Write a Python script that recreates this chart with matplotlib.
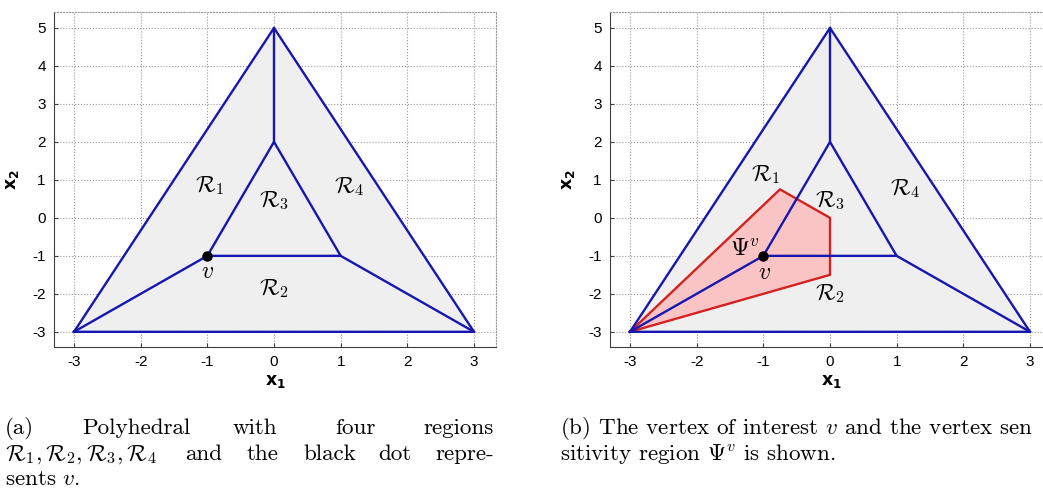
import matplotlib
matplotlib.use('Agg')
import matplotlib.pyplot as plt

matplotlib.rcParams['font.family'] = 'Liberation Sans'
matplotlib.rcParams['mathtext.fontset'] = 'cm'
matplotlib.rcParams['axes.unicode_minus'] = False

# polyhedron vertices
outer_x = [-3, 0, 3, -3]
outer_y = [-3, 5, -3, -3]
inner_x = [-1, 0, 1, -1]
inner_y = [-1, 2, -1, -1]
# segments joining inner and outer triangle
spokes = [([0, 0], [5, 2]), ([-3, -1], [-3, -1]), ([3, 1], [-3, -1])]
vertex_v = (-1, -1)
# vertex sensitivity region Psi^v
psi_x = [-3, -0.75, 0, 0, -3]
psi_y = [-3, 0.75, 0, -1.5, -3]

ticks_x = [-3, -2, -1, 0, 1, 2, 3]
ticks_y = [-3, -2, -1, 0, 1, 2, 3, 4, 5]

blue = '#1616b0'
fig = plt.figure(figsize=(10.43, 4.93), dpi=100)


def draw_panel(ax):
    ax.fill(outer_x, outer_y, color='#efefef', zorder=1)
    ax.set_xlim(-3.3, 3.33)
    ax.set_ylim(-3.4, 5.42)
    ax.set_xticks(ticks_x)
    ax.set_yticks(ticks_y)
    ax.grid(True, linestyle=':', color='#9a9a9a', linewidth=0.8)
    ax.set_axisbelow(True)
    for s in ['top', 'right']:
        ax.spines[s].set_linestyle(':')
        ax.spines[s].set_color('#9a9a9a')
        ax.spines[s].set_linewidth(0.8)
    for s in ['left', 'bottom']:
        ax.spines[s].set_color('#404040')
    ax.tick_params(direction='in', length=3, color='#404040', labelsize=11, pad=6)
    ax.set_xlabel(r'$\mathbf{x_1}$', math_fontfamily='dejavusans', fontsize=12.5, labelpad=3)
    ax.set_ylabel(r'$\mathbf{x_2}$', math_fontfamily='dejavusans', fontsize=12.5, labelpad=8)


def draw_lines(ax):
    ax.plot(outer_x, outer_y, color=blue, lw=1.7, zorder=4)
    ax.plot(inner_x, inner_y, color=blue, lw=1.7, zorder=4)
    for sx, sy in spokes:
        ax.plot(sx, sy, color=blue, lw=1.7, zorder=4)
    ax.plot(*vertex_v, 'o', color='black', ms=6.5, zorder=6)


# (a)
ax1 = fig.add_axes([54 / 1043, 1 - 347 / 493, 442 / 1043, 335 / 493])
draw_panel(ax1)
draw_lines(ax1)
ax1.text(-0.97, 0.86, r'$\mathcal{R}_1$', fontsize=16.5, ha='center', va='center', zorder=7)
ax1.text(0.0, 0.45, r'$\mathcal{R}_3$', fontsize=16.5, ha='center', va='center', zorder=7)
ax1.text(1.12, 0.82, r'$\mathcal{R}_4$', fontsize=16.5, ha='center', va='center', zorder=7)
ax1.text(0.0, -1.85, r'$\mathcal{R}_2$', fontsize=16.5, ha='center', va='center', zorder=7)
ax1.text(-1.0, -1.42, r'$v$', fontsize=17, ha='center', va='center', zorder=7)

# (b)
ax2 = fig.add_axes([610 / 1043, 1 - 347 / 493, 442 / 1043, 335 / 493])
draw_panel(ax2)
ax2.fill(psi_x, psi_y, color='#fbc4c4', zorder=2)
ax2.plot(psi_x, psi_y, color='#d42222', lw=1.7, zorder=3)
draw_lines(ax2)
ax2.text(-0.97, 1.15, r'$\mathcal{R}_1$', fontsize=16.5, ha='center', va='center', zorder=7)
ax2.text(0.0, 0.45, r'$\mathcal{R}_3$', fontsize=16.5, ha='center', va='center', zorder=7)
ax2.text(1.12, 0.78, r'$\mathcal{R}_4$', fontsize=16.5, ha='center', va='center', zorder=7)
ax2.text(0.0, -1.98, r'$\mathcal{R}_2$', fontsize=16.5, ha='center', va='center', zorder=7)
ax2.text(-1.27, -0.85, r'$\Psi^v$', fontsize=17.5, ha='center', va='center', zorder=7)
ax2.text(-0.98, -1.46, r'$v$', fontsize=17, ha='center', va='center', zorder=7)

# captions (justified words placed by hand)
cap = dict(family='cmr10', fontsize=16.6, va='baseline', ha='left')
line1 = [('(a)', 5), ('Polyhedral', 82), ('with', 233), ('four', 335), ('regions', 423)]
line2 = [(r'$\mathcal{R}_1,\mathcal{R}_2,\mathcal{R}_3,\mathcal{R}_4$', 5), ('and', 185),
         ('the', 247), ('black', 303), ('dot', 378), ('repre-', 435)]
for word, px in line1:
    fig.text(px / 1043, 1 - 434 / 493, word, **cap)
for word, px in line2:
    fig.text(px / 1043, 1 - 460 / 493, word, **cap)
fig.text(5 / 1043, 1 - 485 / 493, r'sents $v$.', **cap)
fig.text(560 / 1043, 1 - 434 / 493, r'(b) The vertex of interest $v$ and the vertex sen', **cap)
fig.text(560 / 1043, 1 - 460 / 493, r'sitivity region $\Psi^v$ is shown.', **cap)

plt.savefig('out.png', dpi=100)
